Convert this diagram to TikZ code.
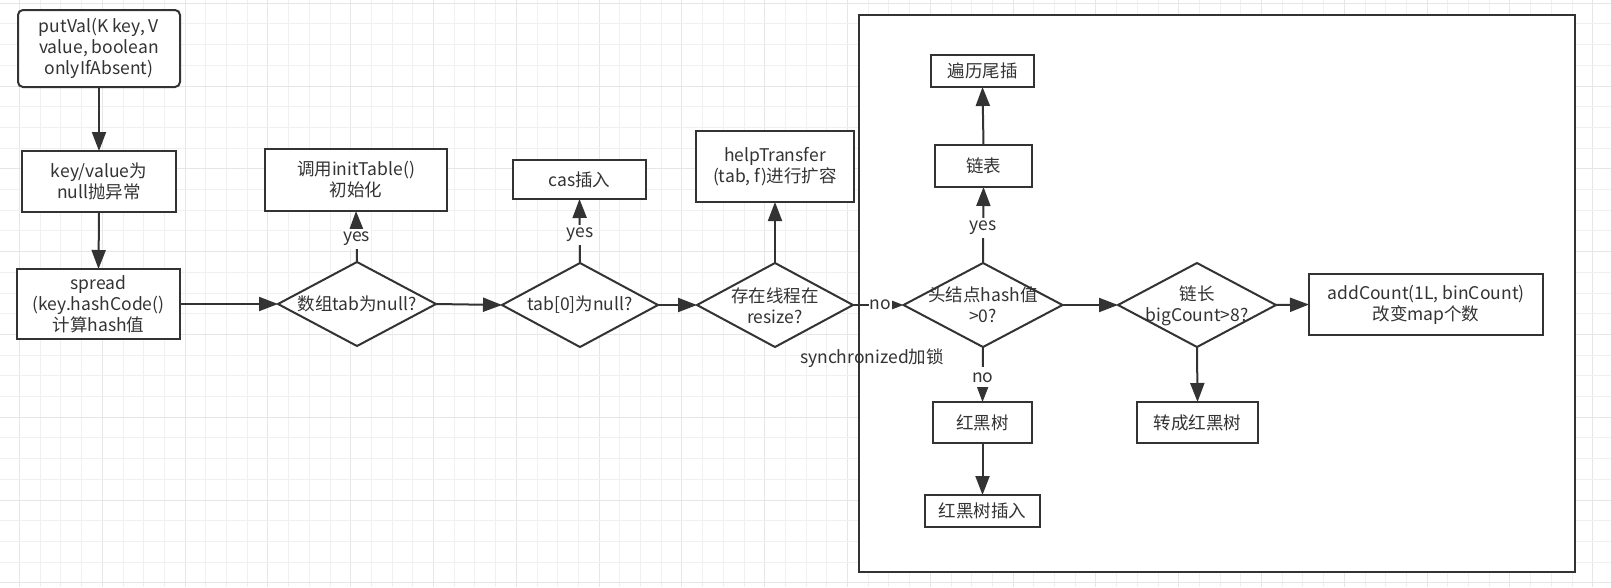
\documentclass[tikz,border=0pt]{standalone}
\usepackage{fontspec}
\setmainfont{Noto Sans CJK SC}
\usetikzlibrary{shapes.geometric,arrows.meta}
\definecolor{ink}{HTML}{333333}
\definecolor{gridminor}{HTML}{F0F0F0}
\definecolor{gridmajor}{HTML}{E6E6E6}
\pgfdeclarelayer{gridlayer}
\pgfsetlayers{gridlayer,main}
\begin{document}
\begin{tikzpicture}[x=1pt,y=-1pt,
  every node/.style={font=\fontsize{17.5}{21}\selectfont, text=ink},
  box/.style={draw=ink, line width=2pt, fill=white, inner sep=0pt, outer sep=0pt, align=center},
  dia/.style={shape=diamond, draw=ink, line width=2pt, fill=white, inner sep=0pt, outer sep=0pt},
  dtext/.style={align=center, inner sep=0pt},
  conn/.style={draw=ink, line width=2pt, -{Triangle[length=19pt,width=14pt]}},
  lbl/.style={fill=white, inner xsep=1pt, inner ysep=0pt, minimum height=20pt},
  frame/.style={draw=ink, line width=2pt, fill=white, inner sep=0pt, outer sep=0pt}
]
\useasboundingbox (0,0) rectangle (1611,587);
% background grid
\begin{pgfonlayer}{gridlayer}
  \fill[white] (0,0) rectangle (1611,587);
  \foreach \i in {0,...,77} {
    \pgfmathtruncatemacro{\m}{mod(\i,4)}
    \ifnum\m=0
      \draw[gridmajor, line width=1pt] ({19.5+\i*20.7},0) -- ({19.5+\i*20.7},587);
    \else
      \draw[gridminor, line width=1pt] ({19.5+\i*20.7},0) -- ({19.5+\i*20.7},587);
    \fi
  }
  \foreach \j in {0,...,28} {
    \pgfmathtruncatemacro{\m}{mod(\j,4)}
    \ifnum\m=0
      \draw[gridmajor, line width=1pt] (0,{3.2+\j*20.7}) -- (1611,{3.2+\j*20.7});
    \else
      \draw[gridminor, line width=1pt] (0,{3.2+\j*20.7}) -- (1611,{3.2+\j*20.7});
    \fi
  }
\end{pgfonlayer}

% container
\node[frame, minimum width=716pt, minimum height=557pt] (cont) at (1217,293.5) {};

% left column
\node[box, rounded corners=5pt, minimum width=162pt, minimum height=77pt] (put) at (99,48.5)
  {\baselineskip=20pt putVal(K key, V\\value, boolean\\onlyIfAbsent)};
\node[box, minimum width=154pt, minimum height=61pt] (kv) at (99,181.5) {key/value为\\null抛异常};
\node[box, minimum width=163pt, minimum height=70pt] (spread) at (98.5,304) {spread\\(key.hashCode()\\计算hash值};

% decision 1
\node[dia, minimum width=158pt, minimum height=84pt] (d1) at (357,304) {};
\node[dtext] (d1t) at (d1) {数组tab为null?};
\node[box, minimum width=182pt, minimum height=62pt] (init) at (356,180) {调用initTable()\\初始化};

% decision 2
\node[dia, minimum width=156pt, minimum height=84pt] (d2) at (580,305) {};
\node[dtext] (d2t) at (d2) {tab[0]为null?};
\node[box, minimum width=133pt, minimum height=39pt] (cas) at (579.5,179.5) {cas插入};

% decision 3
\node[dia, minimum width=156pt, minimum height=84pt] (d3) at (775,305) {};
\node[dtext] (d3t) at (775,305.5) {存在线程在\\resize?};
\node[box, minimum width=158pt, minimum height=71pt] (help) at (775,166.5) {helpTransfer\\(tab, f)进行扩容};

\node[inner sep=0pt] (sync) at (872,358) {synchronized加锁};

% decision 4
\node[dia, minimum width=159pt, minimum height=84pt] (d4) at (983,305) {};
\node[dtext] (d4t) at (983,304.5) {\baselineskip=23pt 头结点hash值\\>0?};
\node[box, minimum width=97pt, minimum height=42pt] (list) at (983.5,166) {链表};
\node[box, minimum width=103pt, minimum height=32pt] (tail) at (982.5,71) {遍历尾插};
\node[box, minimum width=99pt, minimum height=41pt] (rb) at (982.5,422.5) {红黑树};
\node[box, minimum width=115pt, minimum height=32pt] (rbins) at (982.5,511) {红黑树插入};

% decision 5
\node[dia, minimum width=158pt, minimum height=84pt] (d5) at (1197,305) {};
\node[dtext] (d5t) at (1197,306) {\baselineskip=22pt 链长\\bigCount>8?};
\node[box, minimum width=121pt, minimum height=41pt] (tore) at (1197.5,422.5) {转成红黑树};
\node[box, minimum width=234pt, minimum height=61pt] (add) at (1426,304.5) {addCount(1L, binCount)\\改变map个数};

% connectors
\draw[conn] (put.south) -- (kv.north);
\draw[conn] (kv.south) -- (spread.north);
\draw[conn] (spread.east) -- (d1.west);
\draw[conn] (d1.east) -- (d2.west);
\draw[conn] (d2.east) -- (d3.west);
\draw[conn] (d1.north) -- (init.south);
\draw[conn] (d2.north) -- (cas.south);
\draw[conn] (d3.north) -- (help.south);
\draw[conn] (d3.east) -- (d4.west);
\draw[conn] (d4.north) -- (list.south);
\draw[conn] (list.north) -- (tail.south);
\draw[conn] (d4.south) -- (rb.north);
\draw[conn] (rb.south) -- (rbins.north);
\draw[conn] (d4.east) -- (d5.west);
\draw[conn] (d5.east) -- (add.west);
\draw[conn] (d5.south) -- (tore.north);

% connector labels, drawn over the lines and tips
\path (d1.north) -- node[lbl, pos=0.45] (y1) {yes} (init.south);
\path (d2.north) -- node[lbl, pos=0.44] (y2) {yes} (cas.south);
\path (d3.east) -- node[lbl, pos=0.54] (n1) {no} (d4.west);
\path (d4.north) -- node[lbl, pos=0.46] (y3) {yes} (list.south);
\path (d4.south) -- node[lbl, pos=0.55] (n2) {no} (rb.north);
\end{tikzpicture}
\end{document}
